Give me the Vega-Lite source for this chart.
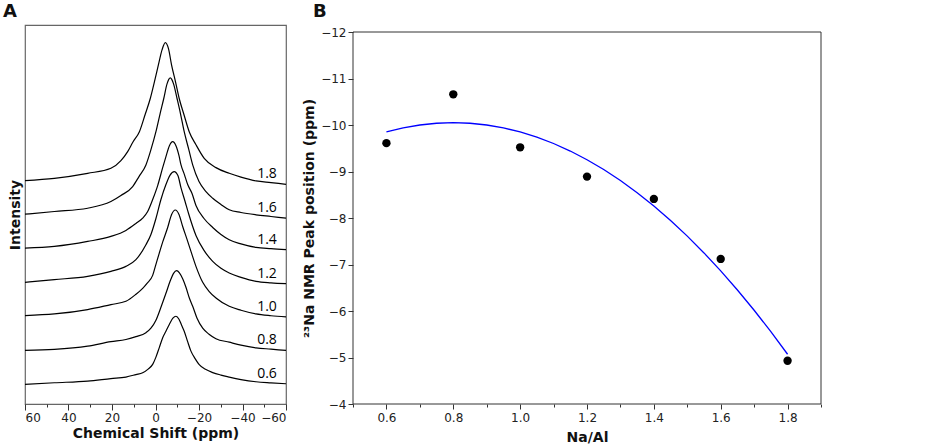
{
  "$schema": "https://vega.github.io/schema/vega-lite/v6.json",
  "background": "white",
  "padding": {"left": 2, "top": 2, "right": 0, "bottom": 0},
  "spacing": 13,
  "config": {
    "font": "DejaVu Sans",
    "axis": {"labelFont": "DejaVu Sans", "labelFontSize": 12, "labelColor": "#222", "titleFont": "DejaVu Sans", "titleFontSize": 14, "titleFontWeight": "bold", "titleColor": "#111", "grid": false, "domain": false, "tickColor": "#333", "labelOverlap": false},
    "title": {"font": "DejaVu Sans", "fontSize": 18, "fontWeight": "bold", "color": "#111", "anchor": "start", "frame": "group"}
  },
  "datasets": {
    "spec": [
      {"s":"1.8","ppm":60,"v":224},{"s":"1.8","ppm":46.5,"v":226.3},{"s":"1.8","ppm":31.2,"v":231.3},{"s":"1.8","ppm":20.5,"v":236.3},{"s":"1.8","ppm":15.9,"v":244},{"s":"1.8","ppm":12.8,"v":253},{"s":"1.8","ppm":10.3,"v":263},{"s":"1.8","ppm":7.4,"v":273},{"s":"1.8","ppm":4.8,"v":290},{"s":"1.8","ppm":2.4,"v":306.3},{"s":"1.8","ppm":0.5,"v":323},{"s":"1.8","ppm":-1.3,"v":339.7},{"s":"1.8","ppm":-3.0,"v":355},{"s":"1.8","ppm":-4.5,"v":362.3},{"s":"1.8","ppm":-6.0,"v":356},{"s":"1.8","ppm":-7.4,"v":339.7},{"s":"1.8","ppm":-9.2,"v":323},{"s":"1.8","ppm":-10.9,"v":306.3},{"s":"1.8","ppm":-13.1,"v":290},{"s":"1.8","ppm":-15.5,"v":273},{"s":"1.8","ppm":-18.6,"v":260},{"s":"1.8","ppm":-22.4,"v":246.3},{"s":"1.8","ppm":-27.8,"v":237},{"s":"1.8","ppm":-33.9,"v":231.3},{"s":"1.8","ppm":-39.3,"v":227.5},{"s":"1.8","ppm":-46.2,"v":223.7},{"s":"1.8","ppm":-53.1,"v":222},{"s":"1.8","ppm":-60,"v":220.3},
      {"s":"1.6","ppm":60,"v":190.3},{"s":"1.6","ppm":46.5,"v":193},{"s":"1.6","ppm":31.2,"v":196.3},{"s":"1.6","ppm":20.5,"v":203},{"s":"1.6","ppm":15.9,"v":209},{"s":"1.6","ppm":10.5,"v":218},{"s":"1.6","ppm":7.6,"v":228},{"s":"1.6","ppm":4.4,"v":239.7},{"s":"1.6","ppm":2.1,"v":255},{"s":"1.6","ppm":-0.2,"v":273},{"s":"1.6","ppm":-2.1,"v":291},{"s":"1.6","ppm":-3.8,"v":306.3},{"s":"1.6","ppm":-5.3,"v":321},{"s":"1.6","ppm":-6.8,"v":327},{"s":"1.6","ppm":-8.3,"v":321},{"s":"1.6","ppm":-9.9,"v":306.3},{"s":"1.6","ppm":-11.5,"v":291},{"s":"1.6","ppm":-13.2,"v":273},{"s":"1.6","ppm":-15.2,"v":256},{"s":"1.6","ppm":-17.1,"v":239.7},{"s":"1.6","ppm":-20.0,"v":223},{"s":"1.6","ppm":-23.2,"v":213},{"s":"1.6","ppm":-26.3,"v":206.3},{"s":"1.6","ppm":-30.1,"v":200},{"s":"1.6","ppm":-33.9,"v":194.7},{"s":"1.6","ppm":-39.3,"v":192},{"s":"1.6","ppm":-46.2,"v":189.7},{"s":"1.6","ppm":-53.1,"v":188},{"s":"1.6","ppm":-60,"v":186.3},
      {"s":"1.4","ppm":60,"v":156.3},{"s":"1.4","ppm":46.5,"v":158},{"s":"1.4","ppm":31.2,"v":163},{"s":"1.4","ppm":20.5,"v":168},{"s":"1.4","ppm":13.6,"v":174},{"s":"1.4","ppm":9.0,"v":181},{"s":"1.4","ppm":5.9,"v":186.3},{"s":"1.4","ppm":3.6,"v":193},{"s":"1.4","ppm":1.3,"v":205},{"s":"1.4","ppm":-1.0,"v":219},{"s":"1.4","ppm":-3.3,"v":237},{"s":"1.4","ppm":-4.8,"v":248},{"s":"1.4","ppm":-6.4,"v":259},{"s":"1.4","ppm":-7.9,"v":263},{"s":"1.4","ppm":-9.4,"v":259},{"s":"1.4","ppm":-10.8,"v":249},{"s":"1.4","ppm":-11.7,"v":240},{"s":"1.4","ppm":-13.3,"v":230},{"s":"1.4","ppm":-14.8,"v":220},{"s":"1.4","ppm":-16.8,"v":211},{"s":"1.4","ppm":-18.6,"v":199},{"s":"1.4","ppm":-22.3,"v":186},{"s":"1.4","ppm":-26.3,"v":177},{"s":"1.4","ppm":-30.1,"v":170},{"s":"1.4","ppm":-33.9,"v":164.7},{"s":"1.4","ppm":-39.3,"v":160.5},{"s":"1.4","ppm":-46.2,"v":157},{"s":"1.4","ppm":-53.1,"v":155.7},{"s":"1.4","ppm":-60,"v":154.7},
      {"s":"1.2","ppm":60,"v":122},{"s":"1.2","ppm":46.5,"v":124.7},{"s":"1.2","ppm":31.2,"v":128},{"s":"1.2","ppm":20.5,"v":133},{"s":"1.2","ppm":13.6,"v":138},{"s":"1.2","ppm":9.0,"v":144.7},{"s":"1.2","ppm":4.4,"v":159.7},{"s":"1.2","ppm":2.1,"v":170},{"s":"1.2","ppm":-0.2,"v":186},{"s":"1.2","ppm":-2.5,"v":205},{"s":"1.2","ppm":-4.8,"v":220},{"s":"1.2","ppm":-6.7,"v":229.5},{"s":"1.2","ppm":-8.6,"v":233},{"s":"1.2","ppm":-10.3,"v":229},{"s":"1.2","ppm":-11.7,"v":217},{"s":"1.2","ppm":-13.6,"v":203},{"s":"1.2","ppm":-15.2,"v":191},{"s":"1.2","ppm":-18.6,"v":169},{"s":"1.2","ppm":-22.3,"v":154},{"s":"1.2","ppm":-26.3,"v":143},{"s":"1.2","ppm":-30.1,"v":136},{"s":"1.2","ppm":-33.9,"v":131.3},{"s":"1.2","ppm":-39.3,"v":127},{"s":"1.2","ppm":-46.2,"v":123},{"s":"1.2","ppm":-53.1,"v":121.5},{"s":"1.2","ppm":-60,"v":120.7},
      {"s":"1.0","ppm":60,"v":88.7},{"s":"1.0","ppm":46.5,"v":90.3},{"s":"1.0","ppm":31.2,"v":94.7},{"s":"1.0","ppm":20.5,"v":99.7},{"s":"1.0","ppm":13.6,"v":103},{"s":"1.0","ppm":9.0,"v":110},{"s":"1.0","ppm":5.9,"v":116},{"s":"1.0","ppm":3.9,"v":121},{"s":"1.0","ppm":1.3,"v":129},{"s":"1.0","ppm":-0.2,"v":140},{"s":"1.0","ppm":-1.7,"v":151},{"s":"1.0","ppm":-3.4,"v":163},{"s":"1.0","ppm":-5.6,"v":177},{"s":"1.0","ppm":-7.4,"v":190},{"s":"1.0","ppm":-9.1,"v":194.5},{"s":"1.0","ppm":-10.8,"v":190},{"s":"1.0","ppm":-12.5,"v":178},{"s":"1.0","ppm":-14.5,"v":165},{"s":"1.0","ppm":-16.3,"v":153},{"s":"1.0","ppm":-18.6,"v":138},{"s":"1.0","ppm":-21.7,"v":122},{"s":"1.0","ppm":-24.6,"v":113},{"s":"1.0","ppm":-27.8,"v":106.3},{"s":"1.0","ppm":-33.9,"v":98},{"s":"1.0","ppm":-39.3,"v":94},{"s":"1.0","ppm":-46.2,"v":90.3},{"s":"1.0","ppm":-53.1,"v":88.5},{"s":"1.0","ppm":-60,"v":87.3},
      {"s":"0.8","ppm":60,"v":53.7},{"s":"0.8","ppm":46.5,"v":54.7},{"s":"0.8","ppm":31.2,"v":58},{"s":"0.8","ppm":20.5,"v":62.5},{"s":"0.8","ppm":13.6,"v":64.7},{"s":"0.8","ppm":9.0,"v":67.5},{"s":"0.8","ppm":4.4,"v":71.5},{"s":"0.8","ppm":2.1,"v":76},{"s":"0.8","ppm":-0.2,"v":84},{"s":"0.8","ppm":-2.5,"v":97},{"s":"0.8","ppm":-4.8,"v":111},{"s":"0.8","ppm":-6.7,"v":123},{"s":"0.8","ppm":-8.3,"v":131},{"s":"0.8","ppm":-9.7,"v":133.7},{"s":"0.8","ppm":-11.0,"v":131.5},{"s":"0.8","ppm":-12.6,"v":125},{"s":"0.8","ppm":-14.0,"v":117},{"s":"0.8","ppm":-15.6,"v":106},{"s":"0.8","ppm":-17.1,"v":98},{"s":"0.8","ppm":-19.1,"v":86},{"s":"0.8","ppm":-21.7,"v":76},{"s":"0.8","ppm":-24.6,"v":70},{"s":"0.8","ppm":-27.8,"v":65.5},{"s":"0.8","ppm":-33.9,"v":62},{"s":"0.8","ppm":-39.3,"v":59},{"s":"0.8","ppm":-46.2,"v":56.3},{"s":"0.8","ppm":-53.1,"v":55},{"s":"0.8","ppm":-60,"v":53.7},
      {"s":"0.6","ppm":60,"v":19.7},{"s":"0.6","ppm":46.5,"v":21.3},{"s":"0.6","ppm":31.2,"v":23},{"s":"0.6","ppm":20.5,"v":25.5},{"s":"0.6","ppm":13.6,"v":27},{"s":"0.6","ppm":9.0,"v":29.5},{"s":"0.6","ppm":5.9,"v":31.3},{"s":"0.6","ppm":3.4,"v":35},{"s":"0.6","ppm":1.3,"v":39.7},{"s":"0.6","ppm":-0.2,"v":47},{"s":"0.6","ppm":-1.7,"v":56.3},{"s":"0.6","ppm":-3.4,"v":67},{"s":"0.6","ppm":-4.8,"v":73},{"s":"0.6","ppm":-6.4,"v":80},{"s":"0.6","ppm":-8.0,"v":86},{"s":"0.6","ppm":-9.4,"v":88},{"s":"0.6","ppm":-10.8,"v":85},{"s":"0.6","ppm":-12.0,"v":79},{"s":"0.6","ppm":-13.2,"v":73},{"s":"0.6","ppm":-14.7,"v":63},{"s":"0.6","ppm":-16.3,"v":53},{"s":"0.6","ppm":-18.2,"v":45.5},{"s":"0.6","ppm":-20.1,"v":39.5},{"s":"0.6","ppm":-23.2,"v":34.5},{"s":"0.6","ppm":-26.3,"v":31.5},{"s":"0.6","ppm":-30.1,"v":29},{"s":"0.6","ppm":-33.9,"v":27},{"s":"0.6","ppm":-39.3,"v":24.5},{"s":"0.6","ppm":-46.2,"v":22.3},{"s":"0.6","ppm":-53.1,"v":21.2},{"s":"0.6","ppm":-60,"v":20.3}
    ],
    "pts": [
      {"r":0.6,"ppm":-9.61},{"r":0.8,"ppm":-10.66},{"r":1.0,"ppm":-9.52},{"r":1.2,"ppm":-8.89},{"r":1.4,"ppm":-8.41},{"r":1.6,"ppm":-7.12},{"r":1.8,"ppm":-4.93}
    ],
    "fit": [
      {"r":0.6,"ppm":-9.851},{"r":0.65,"ppm":-9.938},{"r":0.7,"ppm":-10.0},{"r":0.75,"ppm":-10.038},{"r":0.8,"ppm":-10.05},{"r":0.85,"ppm":-10.038},{"r":0.9,"ppm":-10.0},{"r":0.95,"ppm":-9.938},{"r":1.0,"ppm":-9.851},{"r":1.05,"ppm":-9.739},{"r":1.1,"ppm":-9.602},{"r":1.15,"ppm":-9.44},{"r":1.2,"ppm":-9.253},{"r":1.25,"ppm":-9.042},{"r":1.3,"ppm":-8.805},{"r":1.35,"ppm":-8.544},{"r":1.4,"ppm":-8.257},{"r":1.45,"ppm":-7.946},{"r":1.5,"ppm":-7.61},{"r":1.55,"ppm":-7.249},{"r":1.6,"ppm":-6.863},{"r":1.65,"ppm":-6.452},{"r":1.7,"ppm":-6.016},{"r":1.75,"ppm":-5.556},{"r":1.8,"ppm":-5.07}
    ]
  },
  "hconcat": [
    {
      "width": 261,
      "height": 379,
      "title": {"text": "A", "dx": -22, "offset": 4},
      "view": {"stroke": "#666", "strokeWidth": 1.2},
      "data": {"name": "spec"},
      "resolve": {"axis": {"x": "independent"}},
      "layer": [
        {
          "mark": {"type": "line", "color": "black", "strokeWidth": 1.2, "interpolate": "monotone"},
          "encoding": {
            "x": {
              "field": "ppm", "type": "quantitative",
              "scale": {"domain": [-60, 60], "reverse": true, "nice": false},
              "axis": {
                "orient": "bottom",
                "title": "Chemical Shift (ppm)",
                "values": [-60, -40, -20, 0, 20, 40, 60],
                "labelExpr": "replace(datum.label, '-', '\u2212')",
                "tickSize": 6,
                "labelPadding": 2,
                "titlePadding": 3
              }
            },
            "y": {
              "field": "v", "type": "quantitative",
              "scale": {"domain": [0, 380], "nice": false},
              "axis": {"title": "Intensity", "labels": false, "ticks": false, "titlePadding": 3}
            },
            "detail": {"field": "s"}
          }
        },
        {
          "transform": [{"filter": "datum.ppm === -60"}],
          "mark": {"type": "text", "font": "Open Sans", "fontSize": 14, "dx": -19, "dy": -10, "color": "black"},
          "encoding": {
            "x": {
              "field": "ppm", "type": "quantitative",
              "axis": {"orient": "bottom", "title": null, "values": [-50, -30, -10, 10, 30, 50], "labels": false, "tickSize": 3}
            },
            "y": {"field": "v", "type": "quantitative"},
            "text": {"field": "s"}
          }
        }
      ]
    },
    {
      "width": 468,
      "height": 379,
      "title": {"text": "B", "dx": -40, "offset": 4},
      "view": {"stroke": null},
      "resolve": {"axis": {"x": "independent"}},
      "layer": [
        {
          "data": {"name": "fit"},
          "mark": {"type": "line", "color": "#0000ff", "strokeWidth": 1.3},
          "encoding": {
            "x": {
              "field": "r", "type": "quantitative",
              "scale": {"domain": [0.5, 1.9], "nice": false, "zero": false},
              "axis": {
                "orient": "bottom",
                "title": "Na/Al",
                "values": [0.6, 0.8, 1.0, 1.2, 1.4, 1.6, 1.8],
                "format": ".1f",
                "tickSize": 5,
                "labelPadding": 3,
                "titlePadding": 7
              }
            },
            "y": {
              "field": "ppm", "type": "quantitative",
              "scale": {"domain": [-12, -4], "range": [7, 379], "nice": false, "zero": false},
              "axis": {
                "title": "²³Na NMR Peak position (ppm)",
                "values": [-12, -11, -10, -9, -8, -7, -6, -5, -4],
                "labelExpr": "replace(datum.label, '-', '\u2212')",
                "tickSize": 5,
                "labelPadding": 2,
                "titlePadding": 4
              }
            }
          }
        },
        {
          "data": {"values": [{}]},
          "mark": {"type": "rect", "filled": false, "stroke": "#333", "strokeWidth": 1},
          "encoding": {
            "x": {"datum": 0.5, "type": "quantitative", "axis": null},
            "x2": {"datum": 1.9},
            "y": {"datum": -12, "type": "quantitative"},
            "y2": {"datum": -4}
          }
        },
        {
          "data": {"name": "pts"},
          "mark": {"type": "circle", "size": 70, "color": "black", "opacity": 1},
          "encoding": {
            "x": {
              "field": "r", "type": "quantitative",
              "axis": {"orient": "bottom", "title": null, "values": [0.5, 0.7, 0.9, 1.1, 1.3, 1.5, 1.7, 1.9], "labels": false, "tickSize": 3}
            },
            "y": {"field": "ppm", "type": "quantitative"}
          }
        }
      ]
    }
  ]
}
